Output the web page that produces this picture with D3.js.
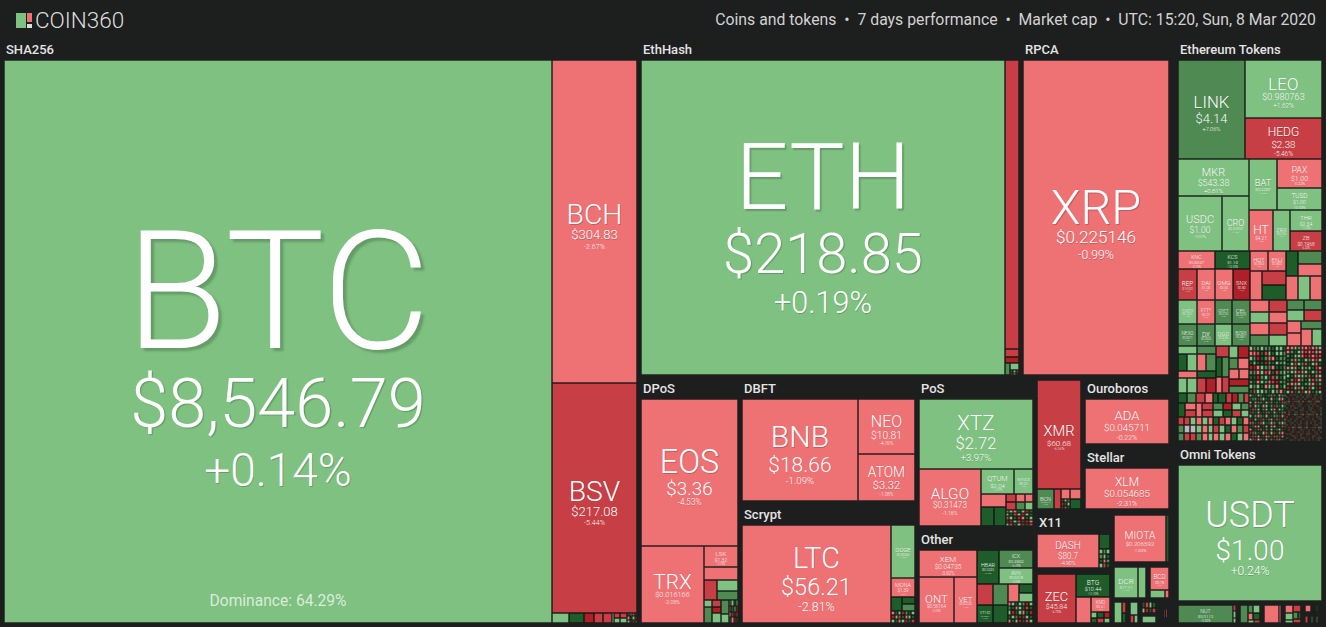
<!DOCTYPE html>
<html><head><meta charset="utf-8">
<script src="https://cdn.jsdelivr.net/npm/d3@7"></script>
<style>
html,body{margin:0;padding:0;background:#1d1e1e;overflow:hidden}
svg{display:block}
text{font-family:Roboto,sans-serif}
</style></head><body>
<svg id="chart" width="1326" height="627"></svg>
<script>
// ---------- labelled coins (parallel arrays) ----------
const shaSymbols=['BTC','BCH','BSV'];
const shaPrices=['$8,546.79','$304.83','$217.08'];
const shaChanges=[0.14,-2.67,-5.44];
const shaWeights=[308524,27455,19550];

const majorSymbols=['ETH','XRP','XMR','ADA','XLM','USDT','BCN'];
const majorPrices=['$218.85','$0.225146','$60.68','$0.045711','$0.054685','$1.00','$0.000213'];
const majorChanges=[0.19,-0.99,-6.16,-0.22,-2.31,0.24,6.1];
const majorWeights=[114660,45844,4796,3780,3360,19440,340];

const midSymbols=['EOS','TRX','LSK','BNB','NEO','ATOM','LTC','DOGE','MONA','XTZ','ALGO','QTUM','WAVES','XEM','ONT','VET','HBAR','ICX','RVN','VTHO','DASH','ZEC','BTG','KMD','MIOTA','DCR','BCD'];
const midPrices=['$3.36','$0.016166','$1.32','$18.66','$10.81','$3.32','$56.21','$0.002266','$1.39','$2.72','$0.31473','$2.04','$0.91','$0.04735','$0.56164','$0.005329','$0.0295','$0.2892','$0.0218','$0.0007','$80.7','$45.84','$10.44','$0.61','$0.206592','$17.41','$0.78'];
const midChanges=[-4.53,-2.08,-2.75,-1.09,-4.76,-1.08,-2.81,1.2,-2.2,3.97,-1.18,1.34,2.1,-3.82,-2.35,-2.4,11.2,6.4,2.2,12.1,-4.9,-6.75,11.4,-3.3,-1.99,2.4,-3.1];
const midWeights=[14259,4851,714,11832,3080,2632,14602,1219,437,7980,3534,825,475,1566,1610,1058,748,612,544,288,2108,1911,782,285,2444,713,414];

const tokenSymbols=['LINK','LEO','HEDG','MKR','USDC','CRO','BAT','PAX','TUSD','HT','ZRX','THR','ZB','KNC','KCS','REP','DAI','OMG','SNX','HOT','ENJ','THETA','FTT*','CRPT','CEL','NEXO','DX','DGD','BZRX','NUT'];
const tokenPrices=['$4.14','$0.980763','$2.38','$543.38','$1.00','$0.04554','$0.2287','$1.00','$1.00','$4.27','$0.2106','$2.34','$0.1968','$0.8527','$1.19','$14.03','$1.00','$0.83','$0.89','$0.0002','$0.0899','$0.1021','$2.37','$0.0722','$0.3344','$0.0971','$0.0009','$12.56','$0.0851','$0.0113'];
const tokenChanges=[7.06,1.62,-5.46,0.81,0.07,1.2,1.4,-0.22,0.09,-2.3,1.9,1.1,-6.2,-3.1,12.4,-6.4,-0.2,-3,-11.2,-3.8,-2.9,2,-1,6,6.2,6.1,6.4,2.1,6.3,5.9];
const tokenWeights=[6633,4466,3157,2556,2420,1485,1400,1260,990,984,697,672,640,666,630,589,558,558,527,360,360,456,432,408,432,418,396,374,396,935];

// ---------- small unlabelled cells: "code:weight"; mosaics list rows of codes ----------
const shaTail=['h','g:170','D:150','X:100','R:90','R:90','g:20',['v','R:30','g:30'],['v','R:35','g:35'],['m',100,'DgRD','rDgX','gXDR']];
const ethTail=['v','R:4046','R:112','X:84',['h','G:60',['v','g:63',['m',45,'DgX','RgD']]]];
const dposTail=['v',['h','R:260',['v','g:231','G:189']],['h',['v','g:56','G:128'],['v','R:60','X:60','g:87'],['v','G:110','g:74'],['m',207,'GgDg','RDgX','gXDR','DrXD']]];
const scryptTail=['v',['h','D:154',['v','D:84','G:84']],['h',['m',276,'rDgXGDg','XgRDrgD','gDrgXDR']]];
const posTail=['h',['v','r:325',['h','D:247','D:228']],['v',['h',['v','R:88','R:88'],['v','r:64','G:64'],['v','r:64','g:64']],['m',432,'GgrDgXD','gDRgXgD','RgDXrDg','DXgRDXr','gRDgXDR']]];
const otherTail=['h',['v',['h','R:336','G:315'],['h','VTHO','D:270']],['v',['h','r:198',['v','D:126','g:126']],['m',525,'rgDgGXg','GDrgDRD','gXDgrDX','DgRDXgD','rDgXDRg']]];
const xmrTail=['h','BCN','R:140',['v','r:90',['m',90,'DgR','XDg','DRD']],['v','r:110','D:110']];
const dashTail=['v','D:165',['m',209,'gGg','GgD','DrG','gRD']];
const zecTail=['v','BTG',['h','r:390',['v','KMD',['m',209,'gDX','DRg']]]];
const tiny1=['h','g:160',['v','R:40','D:40']];
const tiny2=['v','g:100',['h','R:30','g:30']];
const tiny3=['v',['m',140,'DRgD','gXDR'],'z:40','g:100'];
const tiny4=['v','z:80',['h','z:40','R:20','z:10','r:10','z:20'],'z:60'];

const tokRow3Left=['v',['h','KNC','KCS'],['h','REP','DAI','OMG','SNX'],['h','THETA','FTT*','CRPT','CEL'],['h','NEXO','DX','DGD','BZRX']];
const tokRow3Right=['v',
  ['h',['v',['h','HOT','ENJ'],['h','r:348',['v','R:336','D:360']]],['v',['h','D:300',['v','G:312','r:288']],['h','r:288','g:288','r:288']]],
  ['h',['h',['v','r:219','g:219','r:219','G:219'],['v','R:207','r:207','R:207','g:207']],
       ['v',['h',['v','G:170','g:187'],['v','G:180','R:198']],['h',['v','r:168','r:182'],['v','G:168',['h','r:187','g:170']]]]]];
const tokRow4A=['h',
  ['v','g:144',['h','D:162','g:162'],'r:126',['h','g:135','g:135']],
  ['v','G:144',['h','r:162','G:162'],'D:126',['h','R:135','X:135']],
  ['v','R:136',['h','D:128','G:144'],['h','r:96','R:108'],'D:0'],
  ['v',['h','g:108','X:120'],['h','G:108','r:120'],['h','r:98','r:92'],'X:133','G:133']];
const tokRow4B=['v',
  ['h','D:90','G:90','R:90','r:90','D:50','D:80','R:60','X:60','G:60','R:50'],
  ['h','D:98',['v','r:77','R:77'],'r:84',['v','R:84','R:84'],['v','G:70','g:70'],['v','X:63','D:63'],['v','g:63','R:63'],['v','G:56','g:56']],
  ['m',1728,'RRgrgrDRrgDr','GnngrgRgDrGR','GRRGrgrgrDgr']];
const mosaicM1=['m',1776,'gGGgGGDggD','rrRDRgDggG','gGXDGrrDGG','DgDDXGDgGg','XXrgGGrDDG','GGrgRrDRGg','DDXGgDRGDg','GDrgGrRXGG','gGgDrgGrDg','DRggGDgGrD'];
const mosaicM2=['m',1680,'rrgGrrRrrg','rGDgrRrRgr','GDggrXRrRR','DGrGDgGrRg','DgRgGRDgrD','rgrDgGgDRr','GggRrgDgGR','gDrggGRDrg','DGXrGDgRGr','GrrgDGgrDG','XDgRgDRgDX','gRDGXgrDGg'];
const mosaicM3=['m',1776,'gGDggDDgGRDgGg','DgGDrgDXgDGgrD','gDrGgDgRGDgDRg','RDgGDrgDGXgDgG','DgRgDGgDgrDgGD','XrDgXDRgDgRDGg','gDGrgDgXDGgDrX','DXgDGRDgrDgXDg','RgDXrgDGgRDGgr','DGrgDXgDrgXDRG','gXDRgDGXgDrgDX','XrGDXgRDgXDGrD','DrRgDXrgDRgXrD','grXnrDgXRDrGDX'];
const mosaicM4=['m',1680,
 'XDgRrGXgDRrgGXrgDr','gRDRXgGXnDgrRDgXGr','DrXgGGXrDgRDXgrGXg','RgDXRGgXrDXgGXRgrD',
 'rGXgDRrgXDGXrGgXDR','DXgrRDgGDRXgDrXgGX','gXGXnrDRgXDrgGDXRg','XGRgXDRgrDXGgXRDGr',
 'DgRDrgXGRXgDRgrXDg','XrDXgGXRgDRrGGXgDr','gDXRDGgrXDgRDRXgrG','RXgXGrXDgRXGXgDXrg',
 'RgGXgRDrDXgXRGgXDr','XDrgDRRgXGnXgDrXGg','gXGXrDgRDRgXDRrgXG','DRXgGXgrDRgDXRGXgr',
 'XgDrRDXgGRXrDgRDgX','DXRgXGgXrDRgDXrGXg','rGgXDRXgGXgrRDRgXD','XDRgrGXgXDRRDgrXGX',
 'gRDXgRDrgGXRXgDRgr','DXgGRXgRDrXgDRXGgX'];

// ---------- treemap structure: 'g' = sector block, 's' = row/column of blocks ----------
const sha256Block=['h','BTC',['v','BCH','BSV',shaTail]];
const ethHashBlock=['h','ETH',ethTail];
const dposBlock=['v','EOS',['h','TRX',['v','LSK','r:442',dposTail]]];
const dbftBlock=['h','BNB',['v','NEO','ATOM']];
const scryptBlock=['h','LTC',['v','DOGE','MONA',scryptTail]];
const posBlock=['v','XTZ',['h','ALGO',['v',['h','QTUM','WAVES'],posTail]]];
const otherBlock=['h',['v','XEM',['h','ONT','VET']],['v',['h','HBAR',['v','ICX','RVN']],otherTail]];
const x11Block=['v',['h','DASH',dashTail],'z:438',['h','ZEC',zecTail]];
const tokenBlock=['v',
  ['h','LINK',['v','LEO','HEDG']],
  ['h',['v','MKR',['h','USDC','CRO']],['v',['h','BAT',['v','PAX','TUSD']],['h','HT','ZRX',['v','THR','ZB']]]],
  ['h',tokRow3Left,tokRow3Right],
  ['h',['v',tokRow4A,tokRow4B],['v',['h',mosaicM1,mosaicM2],['h',mosaicM3,mosaicM4]]]];

const marketTree=['s','h',775000,
 ['g','SHA256',373919,sha256Block],
 ['s','h',402095,
  ['s','v',312284,
   ['s','h',180348,['g','EthHash',129498,ethHashBlock],['g','RPCA',50850,'XRP']],
   ['s','h',131936,
    ['g','DPoS',25048,dposBlock],
    ['s','v',43772,['g','DBFT',22239,dbftBlock],['g','Scrypt',21533,scryptBlock]],
    ['s','v',29264,['g','PoS',17818,posBlock],['g','Other',11446,otherBlock]],
    ['s','v',33852,
     ['s','h',18291,
      ['g','',6499,['v','XMR',xmrTail],1],
      ['s','v',11792,['g','Ouroboros',6072,'ADA'],['g','Stellar',5720,'XLM']]],
     ['s','h',15561,
      ['g','X11',8835,x11Block,21],
      ['s','v',6726,
       ['g','',3127,['h','MIOTA','D:141'],2],
       ['s','h',2154,['g','',1314,['h','DCR','g:248'],1],['g','',840,['v','BCD',['h','g:112','r:32']],1]],
       ['s','h',1446,['g','',392,tiny1],['g','',294,tiny2],['g','',441,tiny3],['g','',319,tiny4]]]]]]],
  ['s','v',89811,
   ['g','Ethereum Tokens',62042,tokenBlock],
   ['g','Omni Tokens',24404,'USDT'],
   ['s','h',3366,
    ['g','',1364,['h','NUT',['v','R:18','g:18','g:15']]],
    ['g','',528,['h','G:136',['v',['h','G:40','g:56'],['h','r:30','D:40'],['h','g:20','R:18']]]],
    ['g','',462,['h','r:255','r:34']],
    ['g','',440,['h',['v','r:66','g:60','g:24'],['v','R:60',['h','G:35','D:20'],'R:30']]],
    ['g','',462,['v',['h','r:36','z:30','D:12','z:24'],'z:50',['h','R:18','z:18','G:12','z:18','G:12','z:24']]]]]]];

const headerLeft='COIN360';
const headerRight=['Coins and tokens','7 days performance','Market cap','UTC: 15:20, Sun, 8 Mar 2020'];
const dominanceLabel='Dominance: 64.29%';

// ---------- palette ----------
const codes=['X','R','r','g','G','D','n'];
const palette=['#ad2027','#c73f44','#ee7174','#7ec180','#4f8a52','#1e5c2a','#b9b9b9'];
const colorOf=d3.scaleOrdinal(codes,palette);
const changeCode=d3.scaleThreshold([-10,-5,0,5,10],['X','R','r','g','G','D']);

// ---------- coin lookup ----------
const coins=new Map();
[[shaSymbols,shaPrices,shaChanges,shaWeights],[majorSymbols,majorPrices,majorChanges,majorWeights],
 [midSymbols,midPrices,midChanges,midWeights],[tokenSymbols,tokenPrices,tokenChanges,tokenWeights]]
 .forEach(([s,p,c,w])=>s.forEach((sym,i)=>coins.set(sym,{sym,price:p[i],change:c[i],weight:w[i]})));

function build(spec){
  if(typeof spec==='string'){
    if(spec.includes(':')&&!coins.has(spec)){const [code,w]=spec.split(':');return {code,weight:+w};}
    const c=coins.get(spec);
    return {...c,code:changeCode(c.change)};
  }
  const head=spec[0];
  if(head==='m'){
    const total=spec[1],rows=spec.slice(2);
    return {dir:'v',kids:rows.map(r=>({dir:'h',weight:total/rows.length,
      kids:Array.from(r,ch=>({code:ch,weight:total/rows.length/r.length}))}))};
  }
  if(head==='g') return {kind:'g',title:spec[1],weight:spec[2],top:spec[4]??(spec[1]?20:0),dir:'h',kids:[build(spec[3])]};
  if(head==='s') return {kind:'s',dir:spec[1],weight:spec[2],kids:spec.slice(3).map(build)};
  return {dir:head,kids:spec.slice(1).map(build)};
}

const root=d3.hierarchy(build(marketTree),d=>d.kids).sum(d=>d.kids?0:d.weight);
root.eachAfter(n=>{n.w=n.data.weight??n.value;});

function tile(node,x0,y0,x1,y1){
  const kids=node.children,total=d3.sum(kids,k=>k.w),isH=node.data.dir==='h';
  const s=d3.scaleLinear().domain([0,total]).range(isH?[x0,x1]:[y0,y1]);
  let acc=0;
  kids.forEach(k=>{
    const a=s(acc);acc+=k.w;const b=s(acc);
    if(isH){k.x0=a;k.x1=b;k.y0=y0;k.y1=y1;}else{k.x0=x0;k.x1=x1;k.y0=a;k.y1=b;}
  });
}

d3.treemap().size([1318,583]).round(true).tile(tile)
  .paddingInner(n=>n.data.kind==='s'?4:0)
  .paddingTop(n=>n.data.top||0)
  .paddingLeft(n=>n.data.weight===89811?5:0)(root);

const svg=d3.select('#chart');
const plot=svg.append('g').attr('transform','translate(4,40)');

// header
svg.append('rect').attr('x',16).attr('y',13).attr('width',10).attr('height',15).attr('fill',colorOf('g'));
svg.append('rect').attr('x',27).attr('y',13).attr('width',5).attr('height',9).attr('fill',colorOf('r'));
svg.append('rect').attr('x',27).attr('y',24).attr('width',5).attr('height',4).attr('fill','#ddd');
svg.append('text').attr('x',35).attr('y',28).attr('font-size',22.5).attr('font-weight',300).attr('fill','#ddd').text(headerLeft);
svg.append('text').attr('x',1316).attr('y',25).attr('text-anchor','end').attr('font-size',15.8).attr('fill','#d2d2d2')
  .style('white-space','pre').text(headerRight.join('  \u2022  '));

// sector titles
plot.selectAll('text.title').data(root.descendants().filter(n=>n.data.kind==='g'&&n.data.title)).join('text')
  .attr('class','title').attr('x',n=>n.x0+2).attr('y',n=>n.y0+13.5)
  .attr('font-size',13).attr('font-weight',500).attr('fill','#e4e4e4').text(n=>n.data.title);

// cells
const leaves=root.leaves().filter(n=>n.data.code!=='z'&&n.x1>n.x0&&n.y1>n.y0);
plot.selectAll('rect.cell').data(leaves).join('rect').attr('class','cell')
  .attr('x',n=>n.x0+.5).attr('y',n=>n.y0+.5)
  .attr('width',n=>Math.max(n.x1-n.x0-1,.5)).attr('height',n=>Math.max(n.y1-n.y0-1,.5))
  .attr('fill',n=>colorOf(n.data.code))
  .attr('stroke','#000').attr('stroke-opacity',n=>Math.min(n.x1-n.x0,n.y1-n.y0)<4?.12:.3);

// labels
const labelled=leaves.filter(n=>n.data.sym);
const effectiveLength=t=>Array.from(t).reduce((a,c)=>a+(c==='.'||c===','?.5:1),0);
const labelGeom=n=>{
  const w=n.x1-n.x0,h=n.y1-n.y0,cx=(n.x0+n.x1)/2,cy=(n.y0+n.y1)/2;
  const s=Math.min(.295*h,w/n.data.sym.length);
  const p=Math.min(.24*h,.195*w,w/effectiveLength(n.data.price));
  const q=Math.min(.17*h,.084*w);
  const gap=1.15*p,gap2=1.3*q;
  const base=cy-(gap+gap2-.72*s)/2+.08*s+Math.min(2.5,s*.2);
  return {cx,s,p,q,base,gap,gap2};
};
const shadow=f=>`${(f/50).toFixed(2)}px ${(f/50).toFixed(2)}px ${(f/70).toFixed(2)}px rgba(0,0,0,.2)`;
const cellText=plot.selectAll('g.lab').data(labelled).join('g').attr('class','lab').attr('text-anchor','middle').attr('fill','#fff');
cellText.append('text').attr('x',n=>labelGeom(n).cx).attr('y',n=>labelGeom(n).base)
  .attr('font-size',n=>labelGeom(n).s).attr('font-weight',300).style('text-shadow',n=>shadow(labelGeom(n).s)).text(n=>n.data.sym);
cellText.append('text').attr('x',n=>labelGeom(n).cx).attr('y',n=>labelGeom(n).base+labelGeom(n).gap)
  .attr('font-size',n=>labelGeom(n).p).attr('font-weight',300).style('text-shadow',n=>shadow(labelGeom(n).p)).text(n=>n.data.price);
cellText.append('text').attr('x',n=>labelGeom(n).cx).attr('y',n=>labelGeom(n).base+labelGeom(n).gap+labelGeom(n).gap2)
  .attr('font-size',n=>labelGeom(n).q).attr('font-weight',300).style('text-shadow',n=>shadow(labelGeom(n).q))
  .text(n=>(n.data.change>0?'+':'')+n.data.change.toFixed(2)+'%');

// dominance note inside the largest cell
const btcNode=labelled.find(n=>n.data.sym==='BTC');
plot.append('text').attr('x',(btcNode.x0+btcNode.x1)/2).attr('y',btcNode.y1-17).attr('text-anchor','middle')
  .attr('font-size',15.6).attr('fill','#fff').attr('fill-opacity',.72).text(dominanceLabel);
</script>
</body></html>
